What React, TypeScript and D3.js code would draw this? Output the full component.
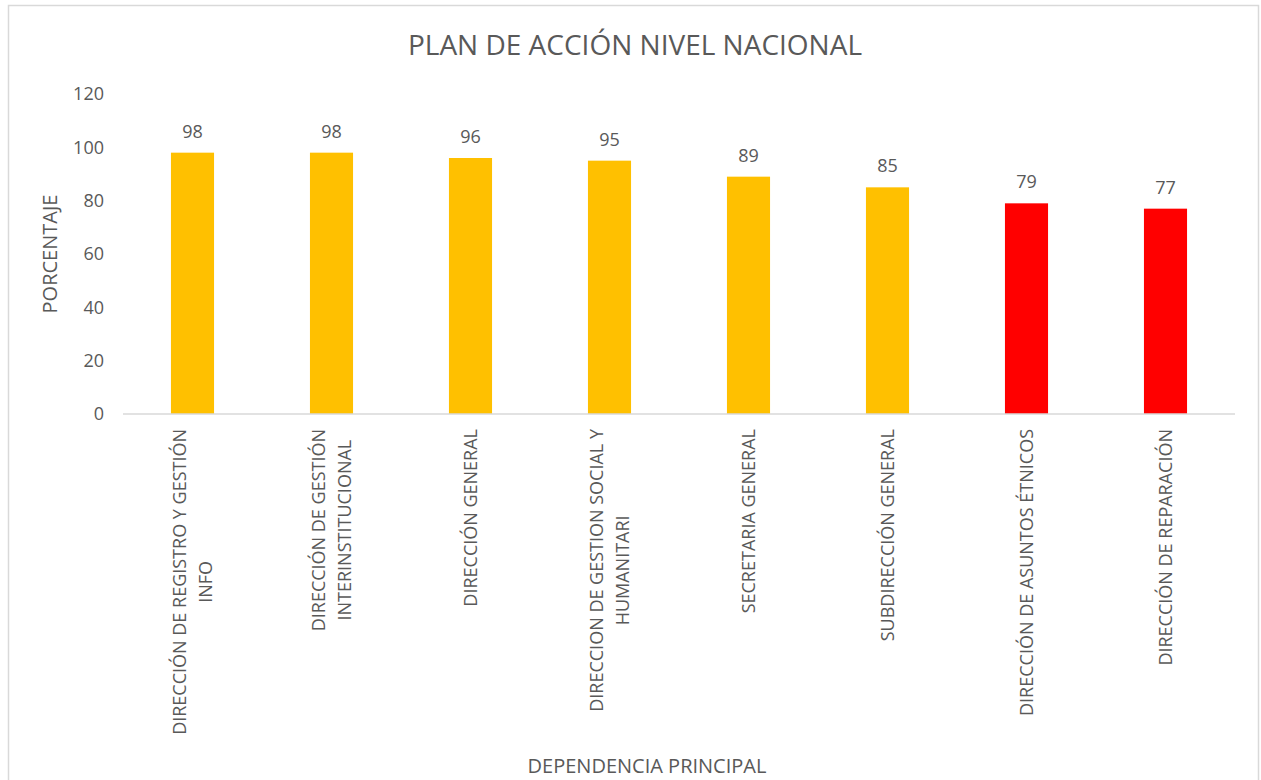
import React from "react";
import * as d3 from "d3";

const categories: string[][] = [
  ["DIRECCIÓN DE REGISTRO Y GESTIÓN", "INFO"],
  ["DIRECCIÓN DE GESTIÓN", "INTERINSTITUCIONAL"],
  ["DIRECCIÓN GENERAL"],
  ["DIRECCION DE GESTION SOCIAL Y", "HUMANITARI"],
  ["SECRETARIA GENERAL"],
  ["SUBDIRECCIÓN GENERAL"],
  ["DIRECCIÓN DE ASUNTOS ÉTNICOS"],
  ["DIRECCIÓN DE REPARACIÓN"],
];
const values: number[] = [98, 98, 96, 95, 89, 85, 79, 77];
const barColors: string[] = ["#FFC000", "#FFC000", "#FFC000", "#FFC000", "#FFC000", "#FFC000", "#FF0000", "#FF0000"];
const yTicks: number[] = [0, 20, 40, 60, 80, 100, 120];

const title = "PLAN DE ACCIÓN NIVEL NACIONAL";
const yTitle = "PORCENTAJE";
const xTitle = "DEPENDENCIA PRINCIPAL";

const W = 1261;
const H = 780;
const FONT = "'Open Sans', 'Noto Sans', sans-serif";
const TXT = "#595959";
const LABEL_SIZE = 18;

function measure(text: string, size: number): number {
  if (typeof document === "undefined") return text.length * size * 0.6;
  const c = document.createElement("canvas");
  const ctx = c.getContext("2d");
  if (!ctx) return text.length * size * 0.6;
  ctx.font = `${size}px 'Open Sans', 'Noto Sans', sans-serif`;
  return ctx.measureText(text).width;
}

export default function App() {
  const x = d3
    .scaleBand<number>()
    .domain(values.map((_, i) => i))
    .range([123, 1235])
    .paddingInner(0.69)
    .paddingOuter(0.345);
  const y = d3.scaleLinear().domain([0, 120]).range([414, 94]);
  const lineGap = 26.7;
  const labelTop = 429;

  return (
    <svg
      width={W}
      height={H}
      style={{ position: "absolute", left: 0, top: 0, background: "#fff" }}
      fontFamily={FONT}
    >
      <rect x={8.5} y={5.5} width={1250} height={H + 20} fill="#fff" stroke="#D9D9D9" strokeWidth={1.5} />
      <text x={635} y={55} textAnchor="middle" fontSize={28} fill={TXT}>
        {title}
      </text>
      {yTicks.map((t) => (
        <text key={t} x={104} y={y(t)} dy="0.36em" textAnchor="end" fontSize={18} fill={TXT}>
          {t}
        </text>
      ))}
      {values.map((v, i) => (
        <g key={i}>
          <rect x={x(i)} y={y(v)} width={x.bandwidth()} height={y(0) - y(v)} fill={barColors[i]} />
          <text
            x={(x(i) as number) + x.bandwidth() / 2}
            y={y(v) - 15}
            textAnchor="middle"
            fontSize={18}
            fill={TXT}
          >
            {v}
          </text>
        </g>
      ))}
      <line x1={123} x2={1235} y1={y(0)} y2={y(0)} stroke="#D9D9D9" strokeWidth={1.5} />
      {categories.map((lines, i) => {
        const cx = (x(i) as number) + x.bandwidth() / 2;
        const n = lines.length;
        const maxW = Math.max(...lines.map((l) => measure(l, LABEL_SIZE)));
        const mid = labelTop + maxW / 2;
        return (
          <g key={i}>
            {lines.map((ln, j) => {
              const bx = cx + (j - (n - 1) / 2) * lineGap + 6.4;
              return (
                <text
                  key={j}
                  transform={`translate(${bx},${mid}) rotate(-90)`}
                  textAnchor="middle"
                  fontSize={LABEL_SIZE}
                  fill={TXT}
                >
                  {ln}
                </text>
              );
            })}
          </g>
        );
      })}
      <text transform="translate(57,254) rotate(-90)" textAnchor="middle" fontSize={20} fill={TXT}>
        {yTitle}
      </text>
      <text x={647} y={773} textAnchor="middle" fontSize={20} fill={TXT}>
        {xTitle}
      </text>
    </svg>
  );
}
